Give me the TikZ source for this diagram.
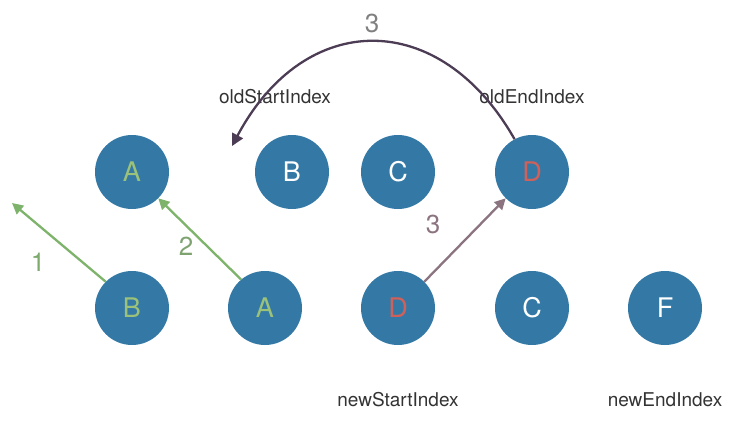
\documentclass[tikz,border=0pt]{standalone}
\usepackage{fontspec}
\setmainfont{TeX Gyre Heros}
\usetikzlibrary{arrows.meta}
\definecolor{nodeblue}{HTML}{3479A6}
\definecolor{lettergreen}{HTML}{9CC27A}
\definecolor{letterred}{HTML}{D0605A}
\definecolor{arrowgreen}{HTML}{7DB36A}
\definecolor{arrowmauve}{HTML}{8B7480}
\definecolor{arrowdark}{HTML}{4C3D55}
\definecolor{labelgray}{HTML}{333333}
\tikzset{
  vnode/.style={circle, fill=nodeblue, minimum size=74pt, inner sep=0pt, font=\fontsize{27}{27}\selectfont, text=white},
  gtext/.style={text=lettergreen},
  rtext/.style={text=letterred},
  idx/.style={font=\fontsize{19}{19}\selectfont, text=labelgray},
  num/.style={font=\fontsize{26}{26}\selectfont},
  garrow/.style={draw=arrowgreen, line width=2.3pt, -{Triangle[length=11pt,width=11pt]}},
  marrow/.style={draw=arrowmauve, line width=2.3pt, -{Triangle[length=11pt,width=11pt]}},
  darrow/.style={draw=arrowdark, line width=2.3pt, -{Triangle[length=12pt,width=12pt]}}
}
\begin{document}
\begin{tikzpicture}[x=1pt,y=-1pt]
\useasboundingbox (0,0) rectangle (755,426);
% old row
\node[vnode,gtext] (oA) at (132,172) {A};
\node[vnode] (oB) at (292,172) {B};
\node[vnode] (oC) at (398,172) {C};
\node[vnode,rtext] (oD) at (532,172) {D};
% new row
\node[vnode,gtext] (nB) at (132,308) {B};
\node[vnode,gtext] (nA) at (265,308) {A};
\node[vnode,rtext] (nD) at (398,308) {D};
\node[vnode] (nC) at (532,308) {C};
\node[vnode] (nF) at (665,308) {F};
% labels
\node[idx] (lOS) at (275,97) {oldStartIndex};
\node[idx] (lOE) at (532,97) {oldEndIndex};
\node[idx] (lNS) at (398,400) {newStartIndex};
\node[idx] (lNE) at (665,400) {newEndIndex};
% numbers
\node[num,text=arrowgreen!85!gray] (n1) at (38,262) {1};
\node[num,text=arrowgreen!70!gray] (n2) at (186,246) {2};
\node[num,text=arrowmauve] (n3) at (433,224) {3};
\node[num,text=gray] (n3b) at (372,23) {3};
% connectors
\coordinate (free1) at (12,203);
\draw[garrow] (nB.135) -- (free1);
\draw[garrow] (nA.130) -- (oA.-45);
\draw[marrow] (nD.45) -- (oD.-135);
\coordinate (curveEnd) at (232,146);
\draw[darrow] (oD.118) .. controls (440,8) and (305,9) .. (curveEnd);
\end{tikzpicture}
\end{document}
